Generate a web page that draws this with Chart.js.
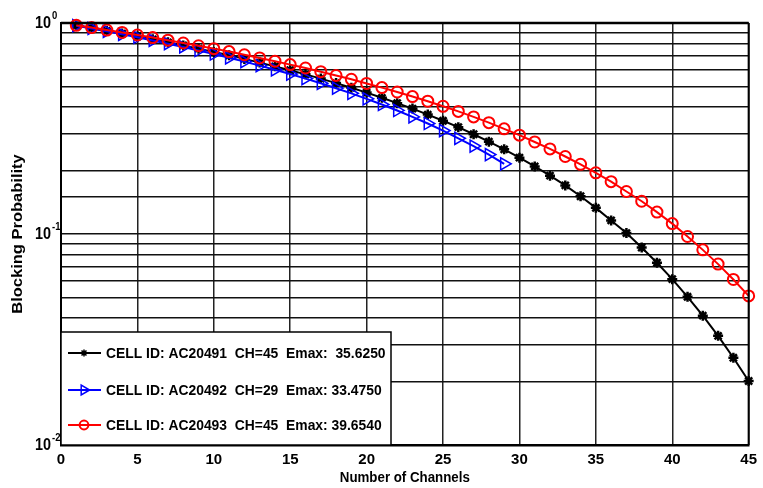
<!DOCTYPE html>
<html>
<head>
<meta charset="utf-8">
<script src="https://cdn.jsdelivr.net/npm/chart.js@4.4.1/dist/chart.umd.min.js"></script>
<style>
  html, body { margin: 0; padding: 0; background: #fff; }
</style>
</head>
<body>
<canvas id="c" width="763" height="488"></canvas>
<script>
// number of channels on the x axis
const channels = [1, 2, 3, 4, 5, 6, 7, 8, 9, 10, 11, 12, 13, 14, 15, 16, 17, 18, 19, 20,
  21, 22, 23, 24, 25, 26, 27, 28, 29, 30, 31, 32, 33, 34, 35, 36, 37, 38, 39, 40,
  41, 42, 43, 44, 45];

// blocking probability
const cellAC20491 = [0.973, 0.945, 0.918, 0.891, 0.864, 0.837, 0.810, 0.783, 0.756, 0.729,
  0.703, 0.676, 0.649, 0.623, 0.597, 0.571, 0.545, 0.519, 0.493, 0.468,
  0.442, 0.417, 0.393, 0.368, 0.344, 0.321, 0.297, 0.274, 0.252, 0.230,
  0.209, 0.189, 0.170, 0.151, 0.133, 0.116, 0.101, 0.0863, 0.0731, 0.0611,
  0.0504, 0.0410, 0.0329, 0.0259, 0.0201];
const cellAC20492 = [0.971, 0.942, 0.913, 0.884, 0.856, 0.827, 0.798, 0.770, 0.741, 0.713,
  0.684, 0.656, 0.628, 0.600, 0.573, 0.545, 0.518, 0.491, 0.464, 0.437,
  0.411, 0.385, 0.359, 0.334, 0.309, 0.284, 0.261, 0.238, 0.215];
const cellAC20493 = [0.975, 0.951, 0.926, 0.902, 0.877, 0.853, 0.829, 0.804, 0.780, 0.756,
  0.732, 0.707, 0.683, 0.659, 0.635, 0.612, 0.588, 0.564, 0.541, 0.517,
  0.494, 0.471, 0.448, 0.426, 0.403, 0.381, 0.359, 0.337, 0.315, 0.294,
  0.273, 0.253, 0.233, 0.214, 0.195, 0.177, 0.159, 0.143, 0.127, 0.112,
  0.0973, 0.0841, 0.0720, 0.0609, 0.0509];

const legendLabels = [
  "CELL ID: AC20491  CH=45  Emax:  35.6250",
  "CELL ID: AC20492  CH=29  Emax: 33.4750",
  "CELL ID: AC20493  CH=45  Emax: 39.6540"
];
const yTickValues = [1, 0.1, 0.01];
const yTickExponents = ["0", "-1", "-2"];

const FONT = "'Liberation Sans', Arial, sans-serif";

function points(values) {
  return values.map((v, i) => ({ x: channels[i], y: v }));
}

// condensed bold text, like the narrow face of the original
function narrowText(ctx, text, x, y, size, squeeze, align) {
  ctx.save();
  ctx.font = "bold " + size + "px " + FONT;
  ctx.textAlign = align || "left";
  ctx.textBaseline = "middle";
  ctx.translate(x, y);
  ctx.scale(squeeze, 1);
  ctx.fillText(text, 0, 0);
  ctx.restore();
}

// y tick labels, axis titles, frame and the boxed legend
const decorations = {
  id: "decorations",
  afterDatasetsDraw(chart) {
    const ctx = chart.ctx;
    const area = chart.chartArea;
    const yScale = chart.scales.y;

    ctx.save();
    // top and right frame
    ctx.strokeStyle = "#000";
    ctx.lineWidth = 2.5;
    ctx.beginPath();
    ctx.moveTo(area.left, area.top);
    ctx.lineTo(area.right, area.top);
    ctx.stroke();
    ctx.lineWidth = 2;
    ctx.beginPath();
    ctx.moveTo(area.right, area.top);
    ctx.lineTo(area.right, area.bottom);
    ctx.stroke();

    // legend box
    const lx = area.left, ly = 332, lw = 330, lh = area.bottom - 332;
    ctx.fillStyle = "#fff";
    ctx.fillRect(lx, ly, lw, lh);
    ctx.lineWidth = 1.5;
    ctx.strokeStyle = "#000";
    ctx.strokeRect(lx, ly, lw, lh);

    const rows = [353, 390, 425];
    chart.data.datasets.forEach((ds, i) => {
      const y = rows[i];
      const star = ds.pointStyle === "star";
      ctx.strokeStyle = ds.borderColor;
      ctx.lineWidth = 2;
      ctx.beginPath();
      ctx.moveTo(lx + 7, y);
      ctx.lineTo(lx + 40, y);
      ctx.stroke();
      ctx.fillStyle = star ? ds.borderColor : "rgba(0,0,0,0)";
      ctx.lineWidth = star ? 1.5 : ds.pointBorderWidth;
      Chart.helpers.drawPoint(ctx, {
        pointStyle: ds.pointStyle,
        rotation: ds.pointRotation || 0,
        radius: star ? 3.5 : ds.pointRadius * 0.8,
        borderWidth: star ? 1.5 : ds.pointBorderWidth
      }, lx + 23, y);
      ctx.fillStyle = "#000";
      narrowText(ctx, legendLabels[i], lx + 45, y + 1, 15, 0.925);
    });

    // y tick labels 10^n
    ctx.fillStyle = "#000";
    yTickValues.forEach((v, i) => {
      const py = yScale.getPixelForValue(v);
      narrowText(ctx, "10", 51, py + 1, 16, 0.9, "right");
      narrowText(ctx, yTickExponents[i], 52, py - 7, 10, 0.95, "left");
    });

    // axis titles
    narrowText(ctx, "Number of Channels", (area.left + area.right) / 2, 478, 14, 0.95, "center");
    ctx.translate(18, (area.top + area.bottom) / 2);
    ctx.rotate(-Math.PI / 2);
    narrowText(ctx, "Blocking Probability", 0, 0, 15, 1.1, "center");
    ctx.restore();
  }
};

new Chart(document.getElementById("c"), {
  type: "line",
  data: {
    datasets: [
      {
        label: legendLabels[0],
        data: points(cellAC20491),
        borderColor: "#000",
        backgroundColor: "#000",
        borderWidth: 2,
        pointStyle: "star",
        pointRadius: 5,
        pointBorderWidth: 2.5,
        order: 2,
        clip: false
      },
      {
        label: legendLabels[1],
        data: points(cellAC20492),
        borderColor: "#0000ff",
        backgroundColor: "rgba(0,0,0,0)",
        borderWidth: 2,
        pointStyle: "triangle",
        pointRotation: 90,
        pointRadius: 7,
        pointBorderWidth: 1.5,
        order: 1,
        clip: false
      },
      {
        label: legendLabels[2],
        data: points(cellAC20493),
        borderColor: "#ff0000",
        backgroundColor: "rgba(0,0,0,0)",
        borderWidth: 2,
        pointStyle: "circle",
        pointRadius: 5.5,
        pointBorderWidth: 2,
        order: 0,
        clip: false
      }
    ]
  },
  options: {
    responsive: false,
    animation: false,
    layout: { padding: { left: 61, top: 23, right: 12, bottom: 0 } },
    plugins: { legend: { display: false }, tooltip: { enabled: false } },
    scales: {
      x: {
        type: "linear",
        min: 0,
        max: 45,
        ticks: { stepSize: 5, color: "#000", padding: 6, font: { family: FONT, size: 15, weight: "bold" } },
        grid: { color: "#222", lineWidth: 1.5, drawTicks: false },
        border: { color: "#000", width: 2.5 },
        afterFit(scale) { scale.height = 43; }
      },
      y: {
        type: "logarithmic",
        min: 0.01,
        max: 1,
        ticks: { display: false },
        grid: { color: "#111", lineWidth: 1.5, drawTicks: false },
        border: { color: "#000", width: 2 },
        afterFit(scale) { scale.width = 0; }
      }
    }
  },
  plugins: [decorations]
});
</script>
</body>
</html>
